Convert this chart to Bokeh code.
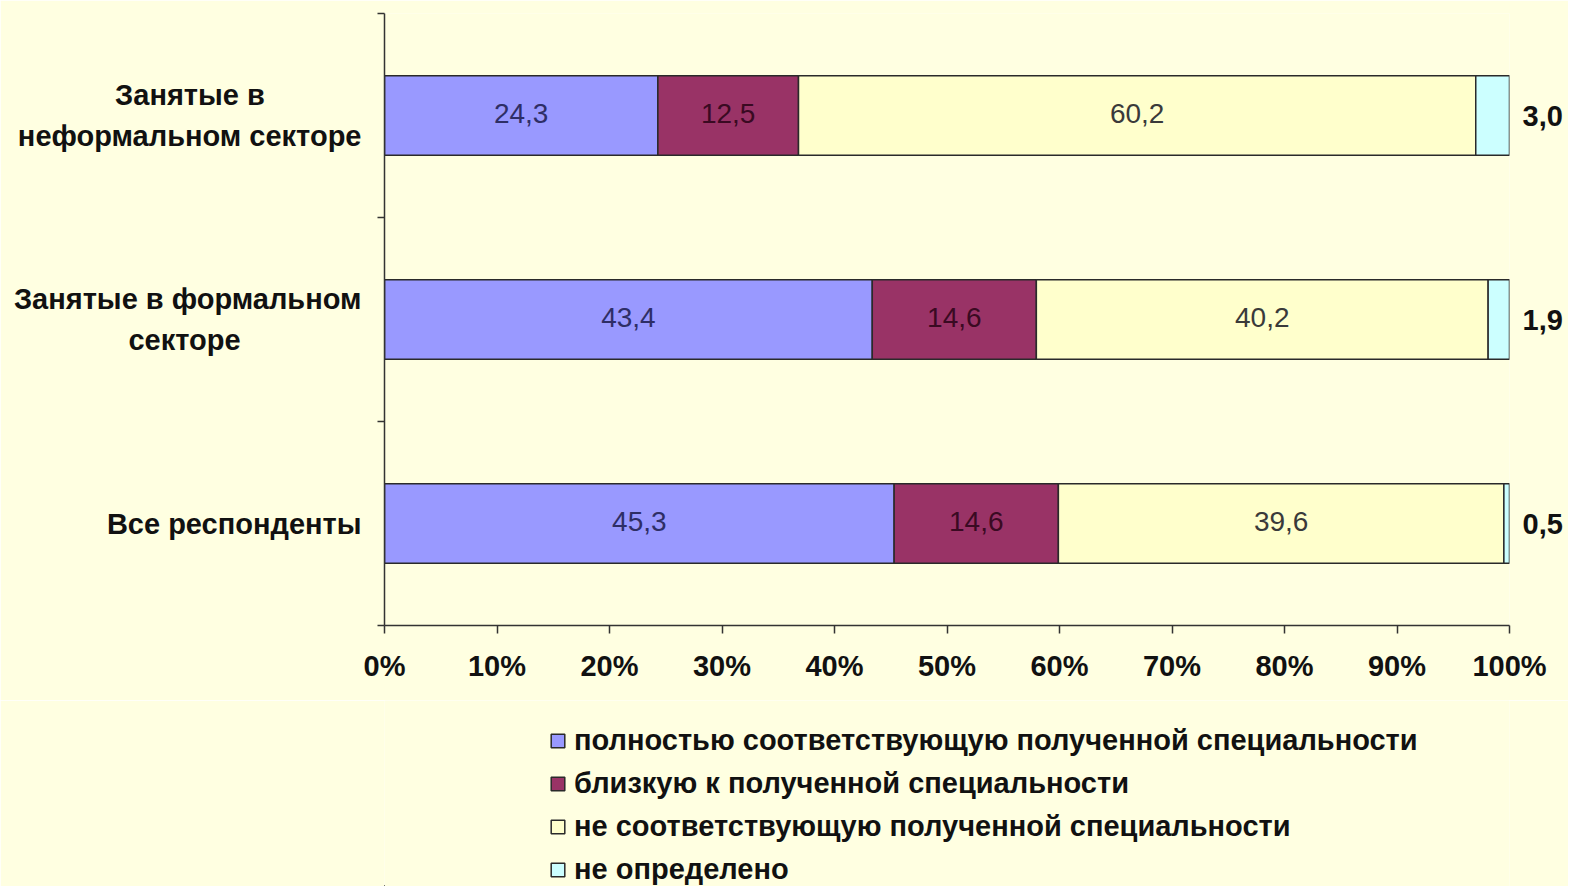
from bokeh.plotting import figure
from bokeh.layouts import column
from bokeh.models import (ColumnDataSource, FixedTicker, NumeralTickFormatter, LinearAxis,
                          Legend, LegendItem, Range1d)
from bokeh.core.properties import value
from bokeh.embed import file_html
from bokeh.resources import INLINE

# ---- data ----
NB = "\u00a0"
categories = ["Занятые в" + NB * 12 + "\nнеформальном секторе",
              "Занятые в формальном\nсекторе" + NB * 15,
              "Все респонденты"]
full_match = [24.3, 43.4, 45.3]
close_match = [12.5, 14.6, 14.6]
no_match = [60.2, 40.2, 39.6]
undefined = [3.0, 1.9, 0.5]
series_names = ["полностью соответствующую полученной специальности",
                "близкую к полученной специальности",
                "не соответствующую полученной специальности",
                "не определено"]
colors = ["#9999FF", "#993366", "#FFFFCC", "#CCFFFF"]
label_colors = ["#2e2e66", "#3a0a22", "#3a3a3a"]
x_ticks = [i / 10 for i in range(11)]

BG = "#FFFFE1"
FONT = "Liberation Sans"
BOLD_SIZE = "29px"

n = len(categories)
ys = [n - 1 - i for i in range(n)]
series = [full_match, close_match, no_match, undefined]
totals = [sum(s[i] for s in series) for i in range(n)]
fields = ["s0", "s1", "s2", "s3"]
data = {"y": ys}
for f, s in zip(fields, series):
    data[f] = [v / t for v, t in zip(s, totals)]
source = ColumnDataSource(data)

W = 1568
p = figure(width=W, height=700, x_range=Range1d(0, 1), y_range=Range1d(-0.5, n - 0.5),
           output_backend="svg", toolbar_location=None,
           min_border_left=384, min_border_right=W - 1509, min_border_top=13, min_border_bottom=75)
p.background_fill_color = BG
p.border_fill_color = BG
p.outline_line_color = None
p.xgrid.visible = False
p.ygrid.visible = False

rs = p.hbar_stack(fields, y="y", height=0.39, color=colors, line_color="#2a2a2a",
                  line_width=1.5, source=source)

# value labels inside bars
for k in range(3):
    xs, texts = [], []
    for i in range(n):
        left = sum(data[fields[j]][i] for j in range(k))
        xs.append(left + data[fields[k]][i] / 2)
        texts.append(f"{series[k][i]:.1f}".replace(".", ","))
    lsrc = ColumnDataSource(dict(x=xs, y=ys, t=texts))
    p.text(x="x", y="y", text="t", source=lsrc, text_align="center", text_baseline="middle",
           text_font=value(FONT), text_font_size="28px", text_color=label_colors[k], y_offset=-2)

# x axis
xa = p.xaxis[0]
xa.ticker = FixedTicker(ticks=x_ticks)
xa.formatter = NumeralTickFormatter(format="0%")
xa.major_tick_in = 0
xa.major_tick_out = 8
xa.minor_tick_line_color = None
xa.axis_line_color = "#333333"
xa.axis_line_width = 1.5
xa.major_tick_line_color = "#333333"
xa.major_tick_line_width = 1.5
xa.major_label_text_font = FONT
xa.major_label_text_font_style = "bold"
xa.major_label_text_font_size = BOLD_SIZE
xa.major_label_text_color = "#111111"
xa.major_label_standoff = 16

# left axis
ya = p.yaxis[0]
ya.ticker = FixedTicker(ticks=ys, minor_ticks=[y - 0.5 for y in range(n + 1)])
ya.major_label_overrides = {y: c for y, c in zip(ys, categories)}
ya.major_tick_in = 0
ya.major_tick_out = 0
ya.minor_tick_in = 0
ya.minor_tick_out = 7
ya.minor_tick_line_color = "#333333"
ya.minor_tick_line_width = 1.5
ya.axis_line_color = "#333333"
ya.axis_line_width = 1.5
ya.major_label_text_font = FONT
ya.major_label_text_font_style = "bold"
ya.major_label_text_font_size = BOLD_SIZE
ya.major_label_text_color = "#111111"
ya.major_label_text_line_height = 1.3
ya.major_label_standoff = 16

# right axis with "не определено" values
ra = LinearAxis(ticker=FixedTicker(ticks=ys),
                major_label_overrides={y: f"{v:.1f}".replace(".", ",") for y, v in zip(ys, undefined)})
ra.axis_line_color = None
ra.major_tick_line_color = None
ra.minor_tick_line_color = None
ra.major_label_text_font = FONT
ra.major_label_text_font_style = "bold"
ra.major_label_text_font_size = BOLD_SIZE
ra.major_label_text_color = "#111111"
ra.major_label_standoff = 7
p.add_layout(ra, "right")

# legend panel below the chart (same series, drawn off-view so only the legend shows)
p2 = figure(width=W, height=186, x_range=Range1d(10, 11), y_range=Range1d(100, 101),
            output_backend="svg", toolbar_location=None,
            x_axis_location=None, y_axis_location=None,
            min_border_left=0, min_border_right=0, min_border_top=0, min_border_bottom=0)
p2.background_fill_color = BG
p2.border_fill_color = BG
p2.outline_line_color = None
p2.xgrid.visible = False
p2.ygrid.visible = False
rs2 = p2.hbar_stack(fields, y="y", height=0.39, color=colors, line_color="#2a2a2a",
                    line_width=1.5, source=source)
legend = Legend(items=[LegendItem(label=nm, renderers=[r]) for nm, r in zip(series_names, rs2)],
                location=(165, 0), orientation="vertical")
legend.label_text_font = FONT
legend.label_text_font_style = "bold"
legend.label_text_font_size = BOLD_SIZE
legend.label_text_color = "#111111"
legend.glyph_width = 17
legend.glyph_height = 17
legend.label_height = 33
legend.label_standoff = 8
legend.spacing = 10
legend.padding = 0
legend.margin = 0
legend.border_line_alpha = 0
legend.background_fill_alpha = 0
p2.add_layout(legend)

layout = column(p, p2, spacing=0)
open("out.html", "w").write(file_html(layout, INLINE))
